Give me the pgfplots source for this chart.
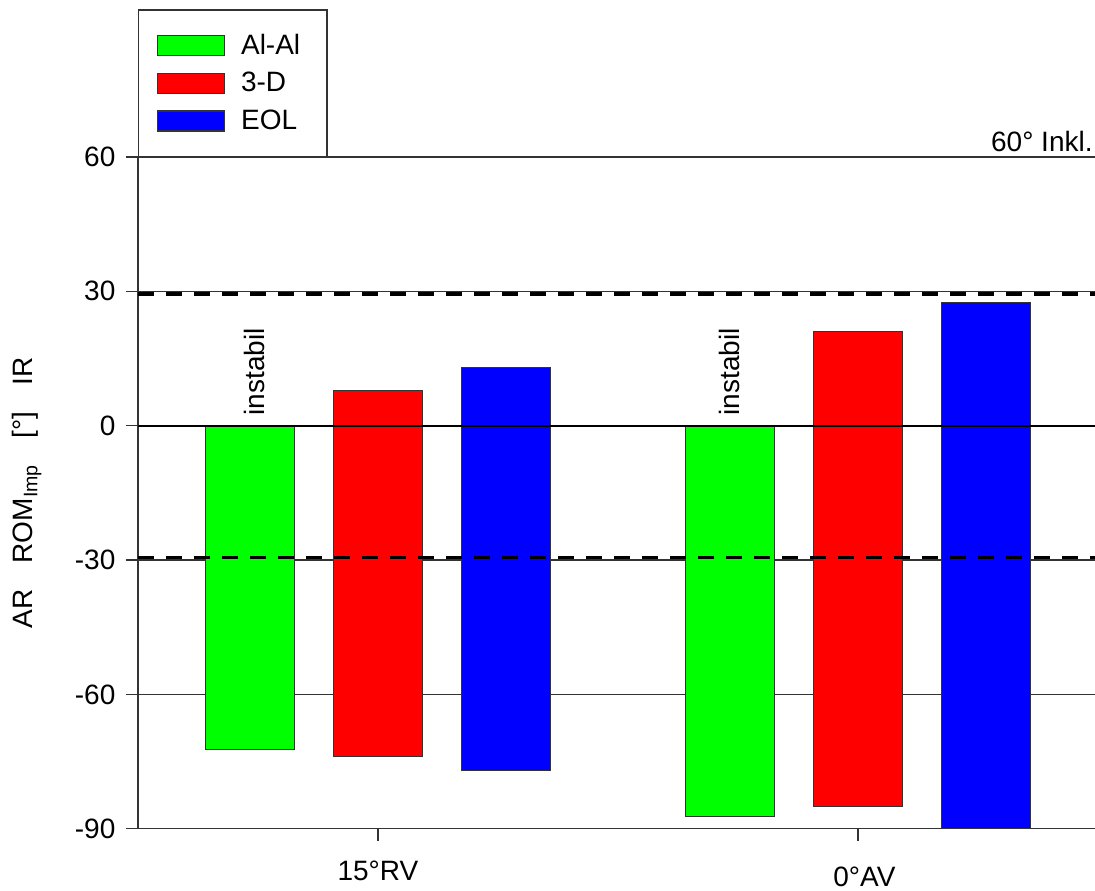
\documentclass[border=0pt]{standalone}
\usepackage{pgfplots}
\pgfplotsset{compat=1.18}
\usepackage{fontspec}
\setmainfont{Liberation Sans}
\newcommand{\f}{\fontsize{14}{17}\selectfont}
\definecolor{cgreen}{RGB}{0,255,0}
\definecolor{cred}{RGB}{255,0,0}
\definecolor{cblue}{RGB}{0,0,255}
\begin{document}
\begin{tikzpicture}[font=\f]
\begin{axis}[
  scale only axis,
  width=478.5pt, height=335.85pt,
  xmin=0.5, xmax=2.494,
  ymin=-90, ymax=60,
  axis x line=bottom, axis y line=left,
  axis line style={-, draw=black!80, line width=0.6pt},
  tick align=outside,
  major tick length=6pt,
  tick style={draw=black!80, line width=0.6pt},
  xtick={1,2},
  xticklabels={{15°RV\hspace{4.5pt}},{\hspace{6.5pt}\raisebox{-3pt}{0°AV}}},
  xticklabel style={anchor=base, yshift=-19.65pt, font=\f},
  ytick={-90,-60,-30,0,30,60},
  yticklabels={-90,-60,-30,0,30,60},
  yticklabel style={font=\f, xshift=-1.8pt},
  ymajorgrids,
  grid style={draw=black!80, line width=0.6pt},
  ylabel={AR\hspace{13pt}ROM\textsubscript{Imp}\hspace{13pt}[°]\hspace{13pt}IR},
  ylabel style={at={(axis description cs:-0.116,0.5)}, anchor=center, font=\f},
  clip=false,
  legend style={at={(0,1)}, anchor=south west, draw=black!80, line width=0.7pt,
    fill=white, inner xsep=9pt, inner ysep=12pt, row sep=7.5pt, column sep=8pt,
    nodes={inner sep=0pt, font=\f}},
  legend cell align=left,
  legend image code/.code={\draw[#1] (0pt,-5pt) rectangle (33.5pt,5pt);},
]
% Al-Al (green): only the part below zero (instabil)
\addplot[ybar, bar width=0.185, bar shift=-0.2667, fill=cgreen, draw=black!80, line width=0.5pt, forget plot]
  coordinates {(1,-72.2) (2,-87.3)};
% 3-D (red)
\addplot[ybar, bar width=0.185, bar shift=0, fill=cred, draw=black!80, line width=0.5pt, forget plot]
  coordinates {(1,7.9) (2,21.1)};
\addplot[ybar, bar width=0.185, bar shift=0, fill=cred, draw=black!80, line width=0.5pt, forget plot]
  coordinates {(1,-73.9) (2,-85.1)};
% EOL (blue)
\addplot[ybar, bar width=0.185, bar shift=0.2667, fill=cblue, draw=black!80, line width=0.5pt, forget plot]
  coordinates {(1,12.95) (2,27.6)};
\addplot[ybar, bar width=0.185, bar shift=0.2667, fill=cblue, draw=black!80, line width=0.5pt, forget plot]
  coordinates {(1,-77.0) (2,-90)};
% zero line
\addplot[black, line width=1pt, forget plot] coordinates {(0.5,0) (2.494,0)};
% dashed limits
\addplot[black, line width=1.6pt, dash pattern=on 8pt off 6pt, forget plot] coordinates {(0.5,29.4) (2.494,29.4)};
\addplot[black, line width=1.6pt, dash pattern=on 8pt off 6pt, forget plot] coordinates {(0.5,-29.4) (2.494,-29.4)};
% legend
\addlegendimage{fill=cgreen, draw=black!80}
\addlegendentry{\makebox[34pt][l]{Al-Al}}
\addlegendimage{fill=cred, draw=black!80}
\addlegendentry{3-D}
\addlegendimage{fill=cblue, draw=black!80}
\addlegendentry{EOL}
% annotations
\node[rotate=90, anchor=west, inner sep=0pt, font=\f] at ([xshift=2.5pt,yshift=5pt]axis cs:0.7333,0) {instabil};
\node[rotate=90, anchor=west, inner sep=0pt, font=\f] at ([yshift=5pt]axis cs:1.7333,0) {instabil};
\node[anchor=base east, inner sep=0pt, font=\f] at ([xshift=-1pt,yshift=2.5pt]rel axis cs:1,1) {60° Inkl.};
\coordinate (sw) at (rel axis cs:0,0);
\coordinate (ne) at (rel axis cs:1,1);
\end{axis}
\pgfresetboundingbox
\path ([shift={(-69pt,-30.65pt)}]sw) rectangle ([shift={(0pt,78.5pt)}]ne);
\end{tikzpicture}
\end{document}
